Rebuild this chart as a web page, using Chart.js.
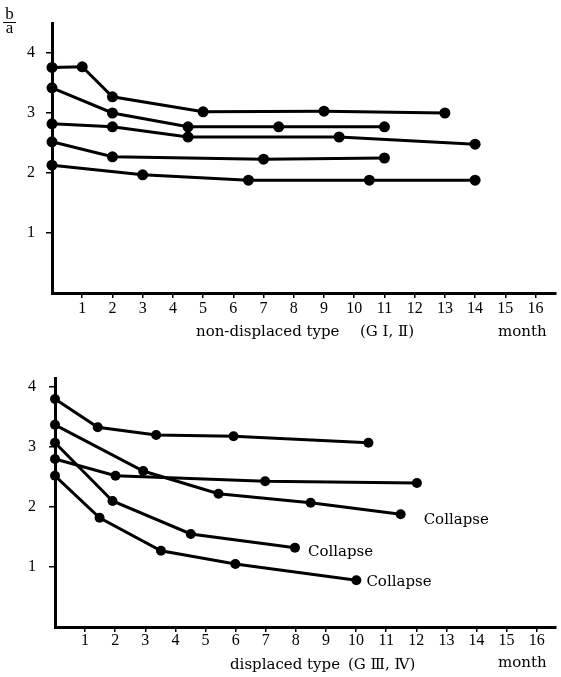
<!DOCTYPE html>
<html>
<head>
<meta charset="utf-8">
<title>b/a ratio by month</title>
<script src="https://cdn.jsdelivr.net/npm/chart.js@4.4.1/dist/chart.umd.min.js"></script>
<style>
  html, body { margin: 0; padding: 0; background: #fff; }
  #wrap { position: relative; width: 561px; height: 677px; }
  canvas { position: absolute; left: 0; }
  #topChart { top: 0; }
  #bottomChart { top: 350px; }
</style>
</head>
<body>
<div id="wrap">
  <canvas id="topChart" width="561" height="345"></canvas>
  <canvas id="bottomChart" width="561" height="327"></canvas>
</div>
<script>
/* ── data: non-displaced type (G I, II) ── */
const ndMonths1 = [0, 1, 2, 5, 9, 13];
const ndRatio1  = [3.76, 3.77, 3.27, 3.02, 3.03, 3.0];
const ndMonths2 = [0, 2, 4.5, 7.5, 11];
const ndRatio2  = [3.42, 3.0, 2.77, 2.77, 2.77];
const ndMonths3 = [0, 2, 4.5, 9.5, 14];
const ndRatio3  = [2.82, 2.77, 2.6, 2.6, 2.48];
const ndMonths4 = [0, 2, 7, 11];
const ndRatio4  = [2.52, 2.27, 2.23, 2.25];
const ndMonths5 = [0, 3, 6.5, 10.5, 14];
const ndRatio5  = [2.13, 1.97, 1.88, 1.88, 1.88];

/* ── data: displaced type (G III, IV) ── */
const dMonths1 = [0, 1.42, 3.36, 5.93, 10.41];
const dRatio1  = [3.8, 3.33, 3.2, 3.18, 3.07];
const dMonths2 = [0, 2.93, 5.43, 8.49, 11.48];
const dRatio2  = [3.37, 2.6, 2.22, 2.07, 1.88];
const dMonths3 = [0, 2.01, 6.98, 12.02];
const dRatio3  = [2.8, 2.52, 2.43, 2.4];
const dMonths4 = [0, 1.91, 4.51, 7.97];
const dRatio4  = [3.07, 2.1, 1.55, 1.32];
const dMonths5 = [0, 1.48, 3.52, 5.99, 10.01];
const dRatio5  = [2.52, 1.82, 1.27, 1.05, 0.78];

const collapseLabel = "Collapse";

/* ── tick labels ── */
const monthTicks = [1, 2, 3, 4, 5, 6, 7, 8, 9, 10, 11, 12, 13, 14, 15, 16];
const ratioTicks = [1, 2, 3, 4];

const INK   = "#000";
const SERIF = "'Liberation Serif', 'Times New Roman', serif";
const TEXT  = "'DejaVu Serif', 'Liberation Serif', serif";

function series(months, ratios, radius) {
  return {
    data: months.map((m, i) => ({ x: m, y: ratios[i] })),
    borderColor: INK,
    borderWidth: 3,
    backgroundColor: INK,
    pointBackgroundColor: INK,
    pointBorderColor: INK,
    pointBorderWidth: 0,
    pointRadius: radius,
    tension: 0,
    clip: false,
  };
}

/* ── text drawn on top of each chart ── */
const captions = {
  id: "captions",
  afterDraw(chart, args, opts) {
    const ctx = chart.ctx;
    ctx.save();
    ctx.fillStyle = INK;
    ctx.strokeStyle = INK;
    ctx.textBaseline = "middle";
    ctx.textAlign = "left";
    ctx.font = "15px " + TEXT;

    (opts.items || []).forEach((t) => ctx.fillText(t.text, t.x, t.y));

    (opts.collapse || []).forEach((c) => {
      const pts = chart.getDatasetMeta(c.dataset).data;
      const p = pts[pts.length - 1];
      ctx.fillText(collapseLabel, p.x + c.dx, p.y + c.dy);
    });

    if (opts.fraction) {
      ctx.textAlign = "center";
      ctx.font = "17px " + SERIF;
      ctx.fillText("b", 9.5, 15);
      ctx.fillText("a", 9.5, 29);
      ctx.lineWidth = 1;
      ctx.beginPath();
      ctx.moveTo(3, 22.5);
      ctx.lineTo(16, 22.5);
      ctx.stroke();
    }
    ctx.restore();
  },
};

function scales(cfg) {
  return {
    x: {
      type: "linear",
      min: 0,
      max: cfg.xMax,
      afterBuildTicks: (s) => { s.ticks = monthTicks.map((v) => ({ value: v })); },
      afterFit: (s) => { s.height = cfg.xAxisHeight; },
      border: { display: true, color: INK, width: 3 },
      grid: { drawOnChartArea: false, drawTicks: true, tickLength: 5, color: INK, lineWidth: 1.5 },
      ticks: {
        color: INK, padding: cfg.xPad, maxRotation: 0, autoSkip: false,
        font: { family: SERIF, size: 16, lineHeight: 1 },
      },
    },
    y: {
      type: "linear",
      min: 0,
      max: cfg.yMax,
      afterBuildTicks: (s) => { s.ticks = ratioTicks.map((v) => ({ value: v })); },
      afterFit: (s) => { s.width = cfg.left; },
      border: { display: true, color: INK, width: 3 },
      grid: { drawOnChartArea: false, drawTicks: true, tickLength: 6, color: INK, lineWidth: 1.5 },
      ticks: {
        color: INK, padding: cfg.yPad,
        font: { family: SERIF, size: 16, lineHeight: 1 },
      },
    },
  };
}

function makeChart(id, datasets, cfg, captionOpts) {
  return new Chart(document.getElementById(id), {
    type: "line",
    data: { datasets },
    options: {
      responsive: false,
      animation: false,
      layout: { padding: { top: cfg.top, right: 1, left: 0, bottom: 0 } },
      plugins: {
        legend: { display: false },
        tooltip: { enabled: false },
        captions: captionOpts,
      },
      scales: scales(cfg),
    },
    plugins: [captions],
  });
}

/* ── top: non-displaced ── */
makeChart(
  "topChart",
  [
    series(ndMonths1, ndRatio1, 5.5),
    series(ndMonths2, ndRatio2, 5.5),
    series(ndMonths3, ndRatio3, 5.5),
    series(ndMonths4, ndRatio4, 5.5),
    series(ndMonths5, ndRatio5, 5.5),
  ],
  { top: 23, left: 52, xMax: 16.66, yMax: 4.5, xAxisHeight: 52, xPad: 3, yPad: 11 },
  {
    fraction: true,
    items: [
      { text: "non-displaced type", x: 196, y: 332 },
      { text: "(G \u2160, \u2161)", x: 360, y: 332 },
      { text: "month", x: 498, y: 332 },
    ],
  }
);

/* ── bottom: displaced ── */
makeChart(
  "bottomChart",
  [
    series(dMonths1, dRatio1, 5),
    series(dMonths2, dRatio2, 5),
    series(dMonths3, dRatio3, 5),
    series(dMonths4, dRatio4, 5),
    series(dMonths5, dRatio5, 5),
  ],
  { top: 28, left: 55, xMax: 16.64, yMax: 4.15, xAxisHeight: 50, xPad: 1, yPad: 13 },
  {
    items: [
      { text: "displaced type", x: 230, y: 315 },
      { text: "(G \u2162, \u2163)", x: 348, y: 315 },
      { text: "month", x: 498, y: 313 },
    ],
    collapse: [
      { dataset: 1, dx: 23, dy: 6 },
      { dataset: 3, dx: 13, dy: 4 },
      { dataset: 4, dx: 10, dy: 2 },
    ],
  }
);
</script>
</body>
</html>
